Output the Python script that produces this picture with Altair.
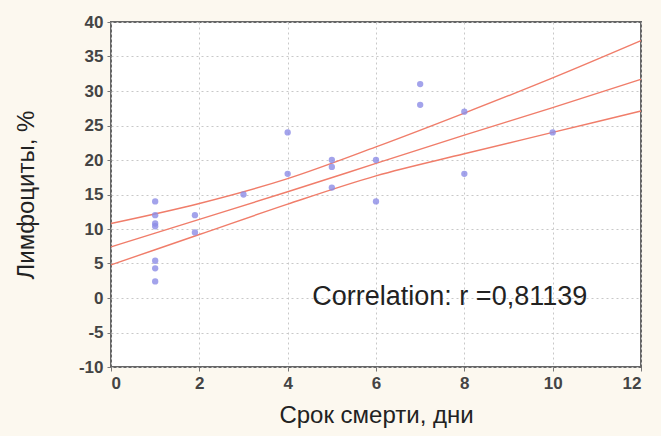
import altair as alt
import pandas as pd

# Scatter points (Срок смерти, дни  vs  Лимфоциты, %)
days = [1, 1, 1, 1, 1, 1, 1, 1.9, 1.9, 3, 4, 4, 5, 5, 5, 6, 6, 7, 7, 8, 8, 10]
lymph = [14, 12, 10.8, 10.4, 5.4, 4.3, 2.4, 12, 9.5, 15, 24, 18, 20, 19, 16, 20, 14, 31, 28, 27, 18, 24]

# Fitted line and 95% confidence bands
band_x = [0, 2, 4, 6, 8, 10, 12]
fit_y = [7.4, 11.4, 15.4, 19.5, 23.6, 27.6, 31.7]
upper_y = [10.8, 13.7, 17.3, 21.9, 26.8, 31.9, 37.3]
lower_y = [4.8, 9.2, 13.6, 17.7, 20.9, 24.0, 27.1]

x_ticks = [0, 2, 4, 6, 8, 10, 12]
y_ticks = [-10, -5, 0, 5, 10, 15, 20, 25, 30, 35, 40]

annotation = "Correlation: r =0,81139"

pts = pd.DataFrame({"x": days, "y": lymph})
lines = pd.DataFrame({"x": band_x * 3,
                      "y": upper_y + fit_y + lower_y,
                      "s": ["upper"] * 7 + ["fit"] * 7 + ["lower"] * 7})
note = pd.DataFrame({"x": [7.67], "y": [0.2], "t": [annotation]})

FONT = "Liberation Sans"

xscale = alt.Scale(domain=[0, 12], nice=False, zero=False)
yscale = alt.Scale(domain=[-10, 40], nice=False, zero=False)

common_axis = dict(grid=True, gridDash=[2, 3], gridColor="#c8c8c8", gridWidth=1,
                   labelFont=FONT, labelFontSize=17, labelFontWeight="bold",
                   labelColor="#444", labelPadding=4, tickColor="#777", tickSize=4,
                   domain=False, titleFont=FONT, titleFontSize=24,
                   titleFontWeight="normal", titleColor="#222",
                   labelExpr="replace(datum.label, '\u2212', '-')")

xaxis = alt.Axis(values=x_ticks, title="Срок смерти, дни", titlePadding=12,
                 **common_axis)
yaxis = alt.Axis(values=y_ticks, title="Лимфоциты, %", titlePadding=40,
                 labelOverlap=False, **common_axis)

X = alt.X("x:Q", scale=xscale, axis=xaxis)
Y = alt.Y("y:Q", scale=yscale, axis=yaxis)

line_layer = alt.Chart(lines).mark_line(color="#f07d6a", strokeWidth=1.4,
                                         interpolate="monotone").encode(
    x=X, y=Y, detail="s:N",
)

pt_layer = alt.Chart(pts).mark_circle(color="#8c8ce6", size=40, opacity=0.8).encode(
    x=X, y=Y,
)

text_layer = alt.Chart(note).mark_text(font=FONT, fontSize=27, color="#222",
                                        align="center", baseline="middle").encode(
    x=X, y=Y, text="t:N",
)

chart = alt.layer(line_layer, pt_layer, text_layer).properties(
    width=530, height=345,
    background="#fcf8ef",
    padding={"left": 111, "top": 22, "right": 20, "bottom": 69},
    autosize=alt.AutoSizeParams(type="none"),
).configure_view(
    fill="white", stroke="#666", strokeWidth=2
)

chart.save("out.html", embed_options={"renderer": "svg", "actions": False})
